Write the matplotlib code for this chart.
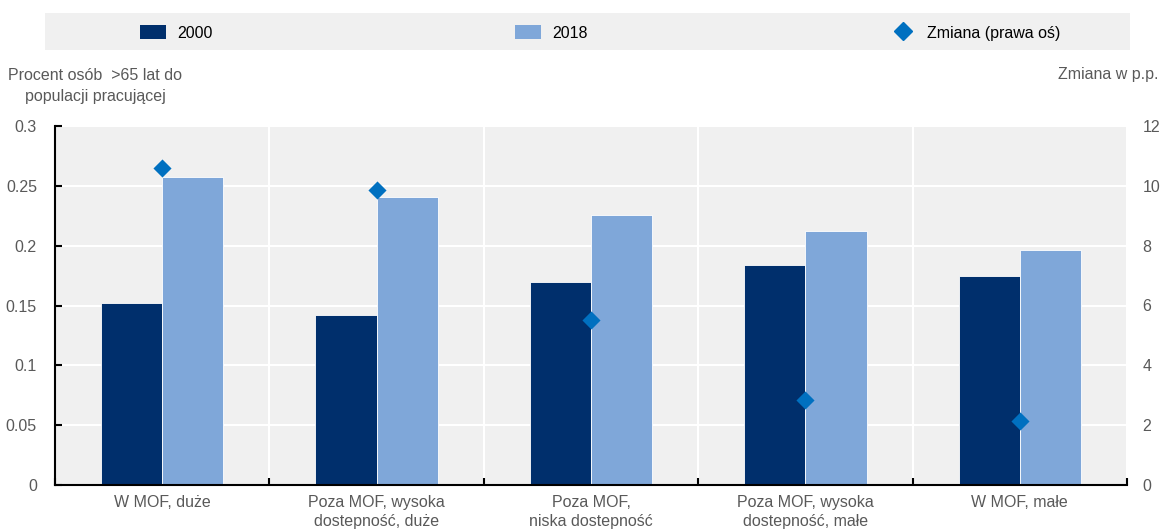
import numpy as np
import matplotlib.pyplot as plt
from matplotlib.lines import Line2D
from matplotlib.patches import Patch, Rectangle

plt.rcParams['font.family'] = ['Liberation Sans', 'DejaVu Sans']

categories = ['W MOF, duże', 'Poza MOF, wysoka\ndostepność, duże', 'Poza MOF,\nniska dostepność',
              'Poza MOF, wysoka\ndostepność, małe', 'W MOF, małe']
v2000 = [0.152, 0.142, 0.170, 0.184, 0.1745]
v2018 = [0.257, 0.2405, 0.2255, 0.212, 0.196]
zmiana = [10.6, 9.85, 5.5, 2.85, 2.15]

dark = '#002F6C'
light = '#7FA7D9'
diam = '#0070C0'
grey_txt = '#595959'
bg = '#F0F0F0'

fig = plt.figure(figsize=(11.64, 5.29), dpi=100)
ax = fig.add_axes([55/1164, 1-485/529, (1127-55)/1164, (485-126)/529])
ax.set_facecolor(bg)

x = np.arange(len(categories))
w = 0.285
ax.bar(x - w/2, v2000, w, color=dark, edgecolor='white', linewidth=0.6, zorder=3)
ax.bar(x + w/2, v2018, w, color=light, edgecolor='white', linewidth=0.6, zorder=3)

ax.set_xlim(-0.5, len(categories) - 0.5)
ax.set_ylim(0, 0.3)
ax.set_yticks([0, 0.05, 0.1, 0.15, 0.2, 0.25, 0.3])
ax.set_yticklabels(['0', '0.05', '0.1', '0.15', '0.2', '0.25', '0.3'])
ax.set_xticks(x)
ax.set_xticklabels(categories, color=grey_txt, fontsize=11.5, linespacing=1.35)
ax.set_xticks(np.arange(-0.5, len(categories)), minor=True)
ax.tick_params(axis='x', which='major', length=0, pad=7)
ax.tick_params(axis='x', which='minor', direction='in', length=5, width=1.5, color='black')
ax.tick_params(axis='y', direction='in', length=5, width=1.5, color='black',
               labelcolor=grey_txt, labelsize=11.5, pad=13)
ax.grid(axis='y', color='white', linewidth=1.5, zorder=1)
ax.grid(axis='x', which='minor', color='white', linewidth=1.5, zorder=1)
for s in ['top', 'right']:
    ax.spines[s].set_visible(False)
for s in ['left', 'bottom']:
    ax.spines[s].set_linewidth(1.5)
    ax.spines[s].set_zorder(4)
ax.set_axisbelow(True)

ax2 = ax.twinx()
ax2.set_ylim(0, 12)
ax2.set_yticks([0, 2, 4, 6, 8, 10, 12])
ax2.tick_params(axis='y', length=0, labelcolor=grey_txt, labelsize=11.5, pad=11)
for s in ax2.spines.values():
    s.set_visible(False)
ax2.scatter(x, zmiana, marker='D', s=85, color=diam, zorder=5, linewidths=0)

fig.text(95/1164, 1-86/529, 'Procent osób  >65 lat do\npopulacji pracującej', ha='center', va='center',
         color=grey_txt, fontsize=11.5, linespacing=1.5)
fig.text(1158/1164, 1-75/529, 'Zmiana w p.p.', ha='right', va='center', color=grey_txt, fontsize=11.5)

# legend band
fig.patches.append(Rectangle((45/1164, 1-50/529), (1130-45)/1164, 37/529,
                             transform=fig.transFigure, facecolor=bg, edgecolor='none', zorder=0))
handles = [Patch(facecolor=dark), Patch(facecolor=light),
           Line2D([], [], marker='D', color=diam, linestyle='none', markersize=9)]
fig.legend(handles, ['2000', '2018', 'Zmiana (prawa oś)'], loc='center left',
           bbox_to_anchor=(126/1164, 1-33/529), ncol=3, frameon=False, fontsize=11.5,
           handlelength=1.6, handleheight=0.95, handletextpad=0.7, columnspacing=18.95)

fig.savefig('out.png', dpi=100)
